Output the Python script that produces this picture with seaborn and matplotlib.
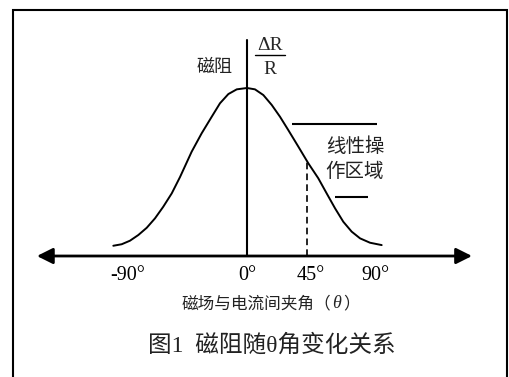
import matplotlib
matplotlib.use("Agg")
import matplotlib.pyplot as plt
import matplotlib.patches as mpatches
from matplotlib.transforms import ScaledTranslation
import seaborn as sns

# angle (deg) and normalised magnetoresistance dR/R
theta = [-94.0, -88.1, -82.3, -76.4, -70.5, -64.7, -58.9, -52.9, -47.1, -38.9,
         -31.9, -24.8, -19.0, -13.1, -7.2, 0.0,
         5.6, 11.5, 17.4, 23.2, 29.0, 36.1, 43.1, 50.1, 56.0, 61.9,
         67.7, 73.6, 79.5, 86.5, 94.7]
mr = [0.061, 0.070, 0.091, 0.125, 0.168, 0.224, 0.293, 0.373, 0.470, 0.621,
      0.730, 0.829, 0.909, 0.964, 0.992, 1.0,
      0.992, 0.958, 0.899, 0.829, 0.750, 0.651, 0.552, 0.463, 0.373, 0.284,
      0.204, 0.145, 0.105, 0.079, 0.065]

tick_vals = [-90, 0, 45, 90]
tick_labels = ["-90°", "0°", "45°", "90°"]

# operating point and linear region
op_theta = 42.5
op_mr = 0.565
zone_top = (0.786, 31.6, 91.4)
zone_bot = (0.351, 61.9, 85.1)

sns.set_theme(style="white")
plt.rcParams['font.family'] = ['Liberation Serif', 'Noto Sans CJK SC']

W, H = 509, 377
fig = plt.figure(figsize=(W / 100, H / 100), dpi=100)
ax = fig.add_axes([0, 0, 1, 1])
ax.set_xlim(-173.67, 184.22)
ax.set_ylim(-0.7202, 1.5238)
for s in ax.spines.values():
    s.set_visible(False)
ax.patch.set_alpha(0)


def px(x, y):
    return x / W, 1 - y / H


# frame
fig.patches.append(mpatches.Rectangle(px(13, 400), (507 - 13) / W, (400 - 10) / H,
                                      transform=fig.transFigure, fill=False,
                                      edgecolor="black", lw=1.5))

# curve
sns.lineplot(x=theta, y=mr, ax=ax, color="black", lw=1.4, estimator=None, sort=False)

# horizontal axis with arrows
ax.annotate("", xy=(158.2, 0), xytext=(-147.7, 0),
            arrowprops=dict(arrowstyle="<|-|>,head_length=0.8,head_width=0.4",
                            mutation_scale=12, lw=2, color="black",
                            shrinkA=0, shrinkB=0))
# vertical axis
ax.plot([0, 0], [0, 1.286], color="black", lw=1.5)

# operating point dashed line
ax.plot([op_theta, op_theta], [0, op_mr], color="black", lw=1.2, ls=(0, (4, 2.5)))

# linear region bars
ax.hlines(zone_top[0], zone_top[1], zone_top[2], color="black", lw=1.5)
ax.hlines(zone_bot[0], zone_bot[1], zone_bot[2], color="black", lw=1.5)

# tick labels
ax.spines['bottom'].set_position(('data', 0))
ax.set_xticks(tick_vals)
ax.set_xticklabels(tick_labels, fontsize=14.5)
ax.tick_params(axis='x', length=0, pad=7, colors="black", bottom=True)
ax.set_yticks([])
ax.set_xlabel("")
ax.set_ylabel("")
lbl = ax.get_xticklabels()[0]
lbl.set_transform(lbl.get_transform() + ScaledTranslation(0.09, 0, fig.dpi_scale_trans))

# texts
fig.text(*px(215, 67), "磁阻", fontsize=13, ha="center", va="center", color="#222222")
fig.text(*px(270, 45), "ΔR", fontsize=14, ha="center", va="center")
fig.lines.append(plt.Line2D([255 / W, 285 / W], [1 - 55 / H, 1 - 55 / H],
                            transform=fig.transFigure, color="black", lw=1))
fig.text(*px(270, 70), "R", fontsize=14, ha="center", va="center")

fig.text(*px(355, 147), "线性操", fontsize=14, ha="center", va="center", color="#222222")
fig.text(*px(355, 172), "作区域", fontsize=14, ha="center", va="center", color="#222222")

fig.text(*px(331, 304), "磁场与电流间夹角（", fontsize=12, ha="right", va="center", color="#222222")
fig.text(*px(337, 304), "θ", fontsize=13, ha="center", va="center", style="italic")
fig.text(*px(343, 304), "）", fontsize=12, ha="left", va="center", color="#222222")

fig.text(*px(272, 345), "图1  磁阻随θ角变化关系", fontsize=17, ha="center", va="center", color="#222222")

fig.savefig("out.png", dpi=100, facecolor="white")
